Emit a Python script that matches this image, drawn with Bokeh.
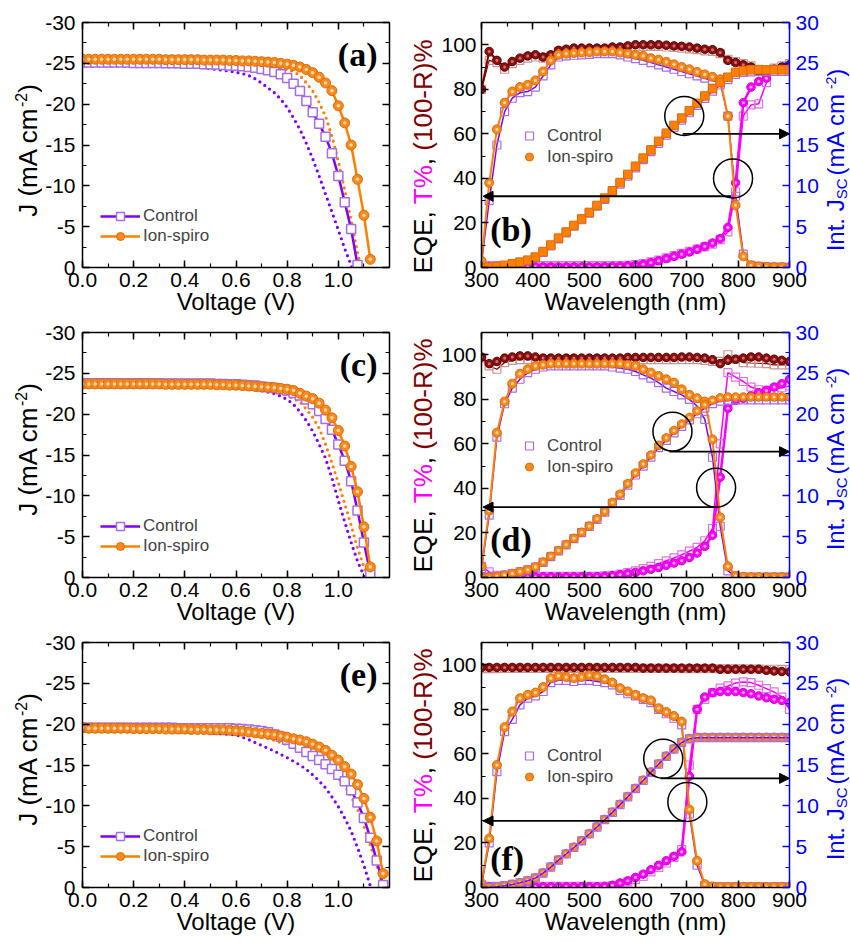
import math
from bokeh.plotting import figure
from bokeh.models import (Range1d, LinearAxis, SingleIntervalTicker, PrintfTickFormatter,
                          CustomJSTickFormatter, Label, Legend, LegendItem, Arrow, NormalHead)
from bokeh.layouts import gridplot
from bokeh.embed import file_html
from bokeh.resources import INLINE

FONT = "Liberation Sans"
SERIF = "Liberation Serif"

# ---------------------------------------------------------------- data
VOLT = [0.000, 0.025, 0.050, 0.075, 0.100, 0.125, 0.150, 0.175, 0.200, 0.225,
        0.250, 0.275, 0.300, 0.325, 0.350, 0.375, 0.400, 0.425, 0.450, 0.475,
        0.500, 0.525, 0.550, 0.575, 0.600, 0.625, 0.650, 0.675, 0.700, 0.725,
        0.750, 0.775, 0.800, 0.825, 0.850, 0.875, 0.900, 0.925, 0.950, 0.975,
        1.000, 1.025, 1.050, 1.075, 1.100, 1.125, 1.150, 1.175, 1.200]

# (a)
A_ION_F = [-25.5, -25.5, -25.5, -25.5, -25.5, -25.5, -25.5, -25.5, -25.5, -25.5,
           -25.5, -25.5, -25.5, -25.45, -25.45, -25.45, -25.45, -25.45, -25.45, -25.4,
           -25.4, -25.4, -25.4, -25.35, -25.35, -25.3, -25.3, -25.25, -25.2, -25.15,
           -25.1, -25.0, -24.9, -24.75, -24.55, -24.25, -23.85, -23.3, -22.6, -21.65,
           -19.8, -17.7, -15.0, -10.8, -6.4, -1.0]
A_CTRL_F = [-25.1, -25.1, -25.1, -25.1, -25.1, -25.1, -25.1, -25.1, -25.05, -25.05,
            -25.05, -25.05, -25.05, -25.0, -25.0, -25.0, -24.95, -24.95, -24.95, -24.9,
            -24.9, -24.85, -24.8, -24.75, -24.7, -24.65, -24.55, -24.45, -24.3, -24.15,
            -23.95, -23.65, -23.2, -22.5, -21.6, -20.4, -19.0, -17.6, -16.0, -14.0,
            -11.2, -8.0, -4.7, -0.3]
A_ION_R = [-25.5, -25.5, -25.5, -25.5, -25.5, -25.5, -25.5, -25.45, -25.45, -25.45,
           -25.45, -25.4, -25.4, -25.4, -25.4, -25.4, -25.35, -25.35, -25.35, -25.3,
           -25.3, -25.25, -25.2, -25.15, -25.1, -25.05, -25.0, -24.9, -24.8, -24.65,
           -24.5, -24.35, -24.2, -24.0, -23.5, -22.6, -21.6, -20.2, -18.5, -16.1,
           -13.0, -9.5, -5.8, -1.8, 1.5]
A_CTRL_R = [-24.9, -24.9, -24.9, -24.9, -24.9, -24.9, -24.9, -24.85, -24.85, -24.85,
            -24.85, -24.8, -24.8, -24.8, -24.75, -24.7, -24.6, -24.55, -24.5, -24.45,
            -24.35, -24.25, -24.15, -24.05, -23.9, -23.75, -23.5, -23.1, -22.6, -22.0,
            -21.4, -20.6, -19.6, -18.3, -16.9, -15.2, -13.3, -11.2, -9.0, -6.8,
            -4.6, -2.3, -0.3, 2.0]
# (c)
C_ION_F = [-23.7, -23.7, -23.7, -23.7, -23.7, -23.7, -23.7, -23.7, -23.7, -23.7,
           -23.7, -23.7, -23.7, -23.65, -23.65, -23.65, -23.65, -23.65, -23.65, -23.65,
           -23.65, -23.6, -23.6, -23.55, -23.55, -23.5, -23.45, -23.4, -23.35, -23.3,
           -23.25, -23.15, -23.05, -22.9, -22.55, -22.2, -21.9, -21.35, -20.5, -19.55,
           -18.0, -16.1, -13.6, -10.5, -6.2, -1.3]
C_CTRL_F = [-23.8, -23.8, -23.8, -23.8, -23.8, -23.8, -23.8, -23.8, -23.8, -23.8,
            -23.8, -23.8, -23.8, -23.75, -23.75, -23.75, -23.75, -23.75, -23.75, -23.75,
            -23.75, -23.7, -23.7, -23.65, -23.65, -23.6, -23.55, -23.5, -23.4, -23.3,
            -23.2, -23.05, -22.9, -22.6, -22.3, -21.8, -21.2, -20.4, -19.4, -18.1,
            -16.3, -14.3, -11.8, -8.2, -4.3, -0.5]
C_ION_R = [-23.7, -23.7, -23.7, -23.7, -23.7, -23.7, -23.7, -23.7, -23.7, -23.7,
           -23.7, -23.7, -23.65, -23.65, -23.65, -23.65, -23.65, -23.6, -23.6, -23.6,
           -23.6, -23.55, -23.55, -23.5, -23.45, -23.4, -23.35, -23.25, -23.1, -22.95,
           -22.8, -22.55, -22.3, -21.9, -21.5, -20.6, -19.6, -18.3, -16.3, -14.0,
           -11.6, -9.0, -6.4, -3.6, -1.3, 1.0]
C_CTRL_R = [-23.7, -23.7, -23.7, -23.7, -23.7, -23.7, -23.7, -23.7, -23.7, -23.7,
            -23.7, -23.65, -23.65, -23.65, -23.65, -23.6, -23.6, -23.6, -23.55, -23.55,
            -23.5, -23.45, -23.4, -23.35, -23.3, -23.2, -23.1, -22.95, -22.85, -22.7,
            -22.5, -22.2, -21.8, -21.2, -20.3, -19.2, -17.9, -16.3, -14.6, -12.2,
            -9.4, -6.8, -4.3, -2.0, -0.2, 2.0]
# (e)
E_ION_F = [-19.6, -19.5, -19.5, -19.5, -19.5, -19.5, -19.5, -19.5, -19.45, -19.45,
           -19.45, -19.45, -19.45, -19.4, -19.4, -19.4, -19.4, -19.35, -19.35, -19.35,
           -19.3, -19.3, -19.3, -19.25, -19.2, -19.15, -19.05, -18.95, -18.85, -18.8,
           -18.7, -18.55, -18.4, -18.2, -18.05, -17.85, -17.55, -17.2, -16.8, -16.2,
           -15.6, -14.8, -13.9, -12.6, -10.9, -8.6, -5.7, -1.7]
E_CTRL_F = [-19.55, -19.55, -19.55, -19.55, -19.55, -19.55, -19.55, -19.55, -19.55, -19.55,
            -19.55, -19.55, -19.55, -19.55, -19.55, -19.5, -19.5, -19.5, -19.5, -19.5,
            -19.5, -19.5, -19.5, -19.5, -19.45, -19.4, -19.35, -19.25, -19.15, -19.0,
            -18.75, -18.45, -18.1, -17.6, -17.1, -16.6, -16.1, -15.6, -15.1, -14.5,
            -13.8, -13.0, -11.9, -10.4, -8.5, -6.1, -3.3, -0.3]
E_ION_R = [-19.5, -19.5, -19.5, -19.45, -19.45, -19.45, -19.4, -19.4, -19.4, -19.4,
           -19.35, -19.35, -19.35, -19.3, -19.3, -19.3, -19.25, -19.25, -19.2, -19.2,
           -19.15, -19.1, -19.05, -19.0, -18.95, -18.85, -18.75, -18.6, -18.45, -18.25,
           -18.0, -17.75, -17.45, -17.1, -16.75, -16.35, -15.9, -15.4, -14.85, -14.2,
           -13.4, -12.45, -11.2, -9.6, -7.5, -5.2, -2.7, -0.1]
E_CTRL_R = [-19.3, -19.3, -19.3, -19.3, -19.3, -19.3, -19.25, -19.25, -19.25, -19.2,
            -19.2, -19.2, -19.15, -19.15, -19.1, -19.1, -19.05, -19.0, -19.0, -18.95,
            -18.9, -18.85, -18.8, -18.75, -18.7, -18.4, -18.1, -17.75, -17.4, -17.05,
            -16.7, -16.3, -15.9, -15.45, -15.0, -14.45, -13.8, -13.05, -12.2, -11.1,
            -9.9, -8.5, -6.9, -4.9, -2.7, -0.2]

WL = [300, 315, 330, 345, 360, 375, 390, 405, 420, 435,
      450, 465, 480, 495, 510, 525, 540, 555, 570, 585,
      600, 615, 630, 645, 660, 675, 690, 705, 720, 735,
      750, 765, 780, 795, 810, 825, 840, 855, 870, 885, 900]

# (b)
B_EQE_ION = [3, 38, 62, 74, 79, 81, 82, 84, 88, 93,
             95.5, 96, 96.3, 96.5, 96.7, 97, 97, 97, 96.5, 96,
             95.5, 95, 94, 93.3, 92.3, 91.2, 90, 89, 87.8, 86.7,
             85.6, 84.5, 68, 28, 5, 1, 0.5, 0.3, 0.2, 0.2, 0.1]
B_EQE_CTRL = [2, 30, 55, 70, 76, 78.5, 79, 81, 86, 91,
              94.5, 95, 95.3, 95.5, 95.7, 96, 96, 96, 95.5, 94.5,
              93.8, 93, 92, 91, 90, 89, 88, 87, 86, 85,
              84, 83, 68, 32, 6, 1, 0.5, 0.3, 0.2, 0.2, 0.1]
B_JSC_ION = [0, 0.03, 0.12, 0.27, 0.45, 0.66, 0.9, 1.28, 1.95, 2.75,
             3.6, 4.35, 5.15, 5.95, 6.75, 7.6, 8.5, 9.4, 10.4, 11.4,
             12.4, 13.4, 14.4, 15.45, 16.45, 17.4, 18.3, 19.2, 20.1, 21.0,
             21.9, 22.65, 23.3, 23.9, 24.1, 24.2, 24.2, 24.2, 24.2, 24.2, 24.2]
B_JSC_CTRL = [0, 0.02, 0.1, 0.23, 0.4, 0.6, 0.84, 1.2, 1.85, 2.65,
              3.5, 4.25, 5.05, 5.85, 6.65, 7.5, 8.35, 9.25, 10.2, 11.2,
              12.2, 13.2, 14.2, 15.2, 16.2, 17.15, 18.05, 18.95, 19.85, 20.7,
              21.6, 22.35, 23.0, 23.65, 23.9, 23.95, 24.0, 24.0, 24.0, 24.0, 24.0]
B_T_ION = [0.5, 0.3, 0.3, 0.3, 0.3, 0.3, 0.3, 0.3, 0.3, 0.3,
           0.3, 0.3, 0.3, 0.3, 0.3, 0.3, 0.4, 0.5, 0.6, 0.8,
           1.0, 1.5, 2.2, 3.0, 4.0, 5.0, 6.0, 7.0, 8.2, 9.5,
           11.0, 13.0, 18.0, 38.0, 74.0, 81.0, 83.5, 85.0]
B_T_CTRL = [1.0, 0.8, 0.8, 0.8, 0.8, 0.8, 0.8, 0.8, 0.8, 0.8,
            0.8, 0.8, 0.8, 0.8, 0.8, 0.8, 0.8, 0.8, 0.9, 1.0,
            1.3, 1.8, 2.5, 3.3, 4.3, 5.3, 6.3, 7.3, 8.3, 9.3,
            10.5, 12.5, 16.0, 34.0, 68.0, 73.0, 73.5, 83.0]
B_R_ION = [80, 97, 93, 90, 92.5, 94, 95, 95.5, 94.5, 95.5,
           97.5, 98, 98.5, 98.5, 98.5, 98.5, 98.5, 99, 99, 99.5,
           100, 100, 100, 100, 99.8, 99.5, 99.3, 99, 98.5, 98,
           97.8, 96.5, 93, 92, 91, 90, 88, 87, 89, 90, 91]
B_R_CTRL = [80, 93, 92, 89, 91.5, 93, 94, 94.5, 94, 95,
            97, 97.5, 97.5, 97.5, 97.5, 97.5, 97.8, 98, 98.3, 98.8,
            99, 99.2, 99.3, 99.3, 99, 98.8, 98.5, 98.2, 97.8, 97.3,
            97, 96, 93.5, 92.5, 91.5, 90.5, 89, 88, 89.5, 90.5, 91.5]
# (d)
D_EQE_ION = [5, 30, 65, 79, 87, 91.5, 93.5, 95, 95.5, 96,
             96, 96, 96, 96, 96, 96, 96, 96, 96, 95.5,
             95, 93.5, 92, 90.5, 89, 87.5, 84.5, 82, 80.5, 79,
             62, 27, 5, 0.7, 0.3, 0.2, 0.2, 0.2, 0.2, 0.2, 0.2]
D_EQE_CTRL = [4, 28, 63, 78, 85, 89, 92, 93.5, 94.5, 95,
              95, 95, 95, 95, 95, 95, 95, 94.5, 94, 93.5,
              92.5, 91, 89.5, 87.5, 85, 83.5, 82, 80, 77, 71,
              54, 23, 3, 0.5, 0.2, 0.2, 0.2, 0.2, 0.2, 0.2, 0.2]
D_JSC_ION = [0, 0.04, 0.14, 0.3, 0.5, 0.72, 0.95, 1.3, 1.9, 2.6,
             3.3, 4.05, 4.8, 5.55, 6.3, 7.2, 8.1, 9.2, 10.2, 11.5,
             12.8, 13.9, 15.0, 16.2, 17.1, 18.0, 18.8, 19.6, 20.4, 21.15,
             21.7, 22.0, 22.1, 22.1, 22.1, 22.1, 22.1, 22.1, 22.1, 22.1, 22.1]
D_JSC_CTRL = [0, 0.04, 0.13, 0.28, 0.48, 0.7, 0.93, 1.27, 1.85, 2.55,
              3.25, 4.0, 4.75, 5.5, 6.25, 7.1, 8.0, 9.05, 10.05, 11.3,
              12.55, 13.65, 14.75, 15.9, 16.8, 17.7, 18.5, 19.3, 20.05, 20.75,
              21.3, 21.6, 21.7, 21.75, 21.75, 21.75, 21.75, 21.75, 21.75, 21.75, 21.75]
D_T_ION = [0.5, 0.3, 0.3, 0.3, 0.3, 0.3, 0.3, 0.3, 0.3, 0.3,
           0.3, 0.3, 0.3, 0.3, 0.3, 0.4, 0.6, 0.9, 1.3, 1.8,
           2.3, 3.0, 3.7, 4.5, 5.5, 6.5, 7.5, 9.0, 11.0, 14.0,
           19.0, 45.0, 76.0, 79.5, 80.5, 81.5, 83.0, 84.0, 85.5, 87.0, 89.0]
D_T_CTRL = [5.0, 2.5, 1.0, 0.6, 0.5, 0.5, 0.5, 0.5, 0.5, 0.5,
            0.5, 0.5, 0.5, 0.5, 0.5, 0.5, 0.7, 1.0, 1.5, 2.2,
            3.0, 4.0, 5.0, 6.2, 7.5, 8.8, 10.2, 11.8, 13.5, 16.5,
            22.0, 60.0, 92.0, 90.0, 88.0, 85.5, 84.3, 84.0, 84.5, 85.2, 86.0]
D_R_ION = [99, 96, 97, 98.5, 99, 99.5, 99.5, 99, 98.5, 98.5,
           98.5, 98.5, 98.5, 98.5, 98.5, 98.5, 98.5, 98.5, 98.5, 98.8,
           98.8, 98.8, 98.8, 98.8, 98.8, 98.8, 99, 99, 98.8, 98.5,
           97.8, 96, 97.5, 98, 98.5, 99, 99, 98.5, 98, 97.5, 97]
D_R_CTRL = [98.5, 95, 93.5, 96.5, 97.5, 97.8, 97.8, 97.8, 97.8, 97.8,
            97.8, 97.8, 97.8, 97.8, 97.8, 97.8, 97.8, 97.8, 97.8, 97.8,
            97.8, 97.8, 97.8, 97.8, 97.8, 97.8, 97.8, 97.8, 97.8, 97.5,
            97, 97, 100, 98, 96.5, 96.3, 96.2, 96, 95.5, 95.5, 95.5]
# (f)
F_EQE_ION = [2, 22, 55, 72, 79, 85, 86.5, 87.5, 90, 94,
             95, 94.5, 94, 94.5, 95.3, 94.8, 93.5, 92, 89.5, 88,
             86.5, 85, 84, 80.5, 78.8, 77, 74.5, 35, 12, 1.5,
             0.5, 0.3, 0.3, 0.3, 0.3, 0.3, 0.3, 0.3, 0.3, 0.3, 0.3]
F_EQE_CTRL = [1, 20, 52, 70, 75.5, 82, 85, 86, 88, 92,
              93, 93, 92.5, 93, 93, 92.5, 92, 91, 88.5, 87,
              86, 84.5, 83, 80, 78, 76, 73, 33, 10, 1,
              0.4, 0.3, 0.3, 0.3, 0.3, 0.3, 0.3, 0.3, 0.3, 0.3, 0.3]
F_JSC_ION = [0, 0.02, 0.1, 0.23, 0.4, 0.6, 0.85, 1.18, 1.8, 2.55,
             3.4, 4.15, 4.95, 5.75, 6.6, 7.45, 8.35, 9.25, 10.2, 11.15,
             12.15, 13.15, 14.15, 15.15, 16.1, 17.0, 17.8, 18.25, 18.4, 18.4,
             18.4, 18.4, 18.4, 18.4, 18.4, 18.4, 18.4, 18.4, 18.4, 18.4, 18.4]
F_JSC_CTRL = [0, 0.02, 0.1, 0.22, 0.38, 0.58, 0.82, 1.15, 1.75, 2.5,
              3.35, 4.1, 4.9, 5.7, 6.55, 7.4, 8.3, 9.2, 10.15, 11.1,
              12.1, 13.1, 14.1, 15.1, 16.05, 16.95, 17.75, 18.2, 18.35, 18.35,
              18.35, 18.35, 18.35, 18.35, 18.35, 18.35, 18.35, 18.35, 18.35, 18.35, 18.35]
F_T_ION = [0.3, 0.3, 0.3, 0.3, 0.3, 0.3, 0.3, 0.3, 0.3, 0.3,
           0.3, 0.3, 0.3, 0.3, 0.3, 0.3, 0.5, 1.0, 2.0, 3.0,
           4.5, 6.0, 8.0, 10.0, 12.0, 14.0, 16.0, 50.0, 80.0, 85.5,
           87.5, 88.0, 88.0, 88.0, 87.5, 87.0, 86.0, 85.2, 84.5, 84.0, 83.0]
F_T_CTRL = [0.5, 0.5, 0.5, 0.5, 0.5, 0.5, 0.5, 0.5, 0.5, 0.5,
            0.5, 0.5, 0.5, 0.5, 0.5, 0.5, 0.5, 0.8, 1.5, 2.5,
            3.5, 5.0, 7.0, 9.0, 11.0, 13.5, 17.0, 55.0, 80.0, 84.5,
            87.5, 89.5, 90.5, 91.8, 92.3, 92.0, 90.8, 89.3, 87.8, 85.5, 80.0]
F_R_ION = [98.8, 98.8, 98.8, 98.8, 98.8, 98.8, 98.8, 98.8, 98.8, 98.8,
           98.8, 98.8, 98.8, 98.8, 98.8, 98.8, 98.8, 98.8, 98.8, 98.8,
           98.8, 98.5, 98.5, 98.5, 98.5, 98.5, 98.5, 98.5, 98.5, 98.5,
           98.5, 98.0, 98.0, 98.0, 98.0, 98.0, 98.0, 97.5, 97.2, 97.0, 96.8]
F_R_CTRL = [98.3, 98.3, 98.3, 98.4, 98.4, 98.4, 98.4, 98.4, 98.4, 98.4,
            98.4, 98.4, 98.4, 98.4, 98.4, 98.4, 98.4, 98.4, 98.4, 98.4,
            98.4, 98.4, 98.4, 98.4, 98.4, 98.4, 98.3, 98.3, 98.3, 98.3,
            98.3, 98.2, 98.2, 98.2, 98.2, 98.1, 98.1, 98.0, 98.0, 97.9, 97.8]

# annotation circles (wavelength, left-axis units) and arrows
ANNOT = {
    "b": dict(circles=[(695, 68.0), (790, 40.0)], right=(692, 60.0), left=(786, 32.0)),
    "d": dict(circles=[(672, 65.5), (757, 40.3)], right=(666, 56.5), left=(757, 31.6)),
    "f": dict(circles=[(654, 57.8), (701, 38.4)], right=(649, 49.0), left=(698, 29.9)),
}

# ---------------------------------------------------------------- styles
PURPLE = "#8000FF"
LAV = "#A66CF0"
ORANGE = "#FF8000"
ORANGE_F = "#F7891E"
ORANGE_E = "#E06C00"
ORANGE_H = "#FFD9A8"
MAGENTA = "#FF00FF"
MAG_SQ = "#E66EE6"
MAG_H = "#FFB8FF"
DRED = "#800000"
DRED_F = "#8B1010"
DRED_H = "#D07070"
DRED_SQ = "#C89494"
BLUE = "#0000FF"

LFW, RFW, FH = 307, 308, 245
TOPS = [22, 11, 11]
BOTS = [54, 54, 53]
JLAB_W, EQELAB_W, JSCLAB_W = 42, 30, 31
MID = 0.3465  # baseline offset of a 'middle'-anchored text, in em

ARIAL = {' ': 278, '%': 889, '(': 333, ')': 333, ',': 278, '-': 333, '.': 278,
         '0': 556, '1': 556, '2': 556, 'A': 667, 'C': 722, 'E': 667, 'I': 278,
         'J': 500, 'Q': 778, 'R': 722, 'S': 667, 'T': 611, 'a': 556, 'c': 500,
         'e': 556, 'm': 833, 'n': 556, 't': 278}


def tw(s, size):
    return sum(ARIAL.get(ch, 556) for ch in s) * size / 1000.0


def style_axis(ax, interval, fmt, color="black", labels=True, standoff=7):
    ax.ticker = SingleIntervalTicker(interval=interval, num_minor_ticks=2)
    ax.axis_line_color = color
    ax.axis_line_width = 1.5
    ax.major_tick_line_color = color
    ax.major_tick_line_width = 1.5
    ax.minor_tick_line_color = color
    ax.minor_tick_line_width = 1.2
    ax.major_tick_in = 7
    ax.major_tick_out = 0
    ax.minor_tick_in = 4
    ax.minor_tick_out = 0
    ax.major_label_text_font = FONT
    ax.major_label_text_color = color
    if labels:
        ax.formatter = PrintfTickFormatter(format=fmt)
        ax.major_label_text_font_size = "21px"
        ax.major_label_standoff = standoff
    else:
        ax.formatter = CustomJSTickFormatter(code="return ''")
        ax.major_label_text_font_size = "1px"
        ax.major_label_standoff = 0
    ax.axis_label_text_font = FONT
    ax.axis_label_text_font_style = "normal"
    ax.axis_label_text_font_size = "24px"
    ax.axis_label_text_color = "black"
    ax.axis_label_standoff = -2


def make_fig(xr, yr, fw, left, right, top, bot):
    p = figure(frame_width=fw, frame_height=FH, min_border_left=left, min_border_right=right,
               min_border_top=top, min_border_bottom=bot, x_range=xr, y_range=yr,
               output_backend="svg", toolbar_location=None, tools="",
               background_fill_color="white", border_fill_color="white",
               outline_line_color=None)
    p.xgrid.visible = False
    p.ygrid.visible = False
    return p


def label_fig(w, top, bot):
    h = top + FH + bot
    p = figure(frame_width=w, frame_height=h, min_border_left=0, min_border_right=0,
               min_border_top=0, min_border_bottom=0, x_range=Range1d(0, w),
               y_range=Range1d(0, h), x_axis_type=None, y_axis_type=None,
               output_backend="svg", toolbar_location=None, tools="",
               background_fill_color="white", border_fill_color="white",
               outline_line_color=None)
    return p


def vlabel(p, baseline_x, center_from_top, bot, pieces):
    """Rotated (bottom-to-top) multi-piece label inside a label figure (pixel coords).
    pieces: (text, font px, colour, baseline shift up, extra advance px)"""
    total = sum(tw(t, s) + pad for t, s, c, sh, pad in pieces)
    py = (bot + FH - center_from_top) - total / 2.0
    for t, s, c, sh, pad in pieces:
        ax_ = baseline_x - sh - MID * s
        p.add_layout(Label(x=ax_, y=py, text=t, angle=math.pi / 2,
                           text_align="left", text_baseline="middle",
                           text_font=FONT, text_font_size="%dpx" % s, text_color=c))
        py += tw(t, s) + pad


def ball(p, x, y, fill, edge, hl, size, **kw):
    s = p.scatter(x, y, marker="circle", size=size, fill_color=fill, line_color=edge,
                  line_width=1, **kw)
    p.scatter(x, y, marker="circle", size=size * 0.36, fill_color=hl, line_color=None, **kw)
    return s


def jv_panel(letter, row, ion_f, ctrl_f, ion_r, ctrl_r):
    top, bot = TOPS[row], BOTS[row]
    xr = Range1d(0, 1.2)
    yr = Range1d(0, -30)
    p = make_fig(xr, yr, LFW, 82 - JLAB_W, 19, top, bot)
    style_axis(p.xaxis[0], 0.2, "%.1f", standoff=5)
    p.xaxis[0].axis_label = "Voltage (V)"
    style_axis(p.yaxis[0], 5, "%d")
    ax_t = LinearAxis()
    style_axis(ax_t, 0.2, "%.1f", labels=False)
    p.add_layout(ax_t, "above")
    ax_r = LinearAxis()
    style_axis(ax_r, 5, "%d", labels=False)
    p.add_layout(ax_r, "right")

    p.line(VOLT[:len(ctrl_r)], ctrl_r, line_color=PURPLE, line_width=3.2,
           line_dash="0 6", line_cap="round")
    p.line(VOLT[:len(ion_r)], ion_r, line_color=ORANGE, line_width=3.2,
           line_dash="0 6", line_cap="round")
    xc = VOLT[:len(ctrl_f)]
    lc = p.line(xc, ctrl_f, line_color=PURPLE, line_width=2.5)
    sc = p.scatter(xc, ctrl_f, marker="square", size=9, fill_color="white",
                   line_color=LAV, line_width=1.5)
    xi = VOLT[:len(ion_f)]
    li = p.line(xi, ion_f, line_color=ORANGE, line_width=2.5)
    si = ball(p, xi, ion_f, ORANGE_F, ORANGE_E, ORANGE_H, 10)

    leg = Legend(items=[LegendItem(label="Control", renderers=[lc, sc]),
                        LegendItem(label="Ion-spiro", renderers=[li, si])],
                 location=(18, 21), background_fill_alpha=0, border_line_alpha=0,
                 label_text_font=FONT, label_text_font_size="17px", glyph_width=40,
                 glyph_height=20, label_height=20, spacing=0, padding=0, margin=0,
                 label_standoff=3)
    p.add_layout(leg)
    p.add_layout(Label(x=1.153, y=-26.1, text="(%s)" % letter, text_align="right",
                       text_baseline="middle", text_font=SERIF, text_font_style="bold",
                       text_font_size="34px", text_color="black"))

    lab = label_fig(JLAB_W, top, bot)
    vlabel(lab, 37, 106, bot,
           [("J (mA cm", 26, "black", 0, 0), ("-2", 16, "black", 11, 0),
            (")", 26, "black", 0, 0)])
    return lab, p


def eqe_panel(letter, row, eqe_c, eqe_i, jsc_c, jsc_i, t_c, t_i, r_c, r_i,
              ann, jsc_ion_marker, ion_jsc_on_top, letter_y):
    top, bot = TOPS[row], BOTS[row]
    xr = Range1d(300, 900)
    yr = Range1d(0, 110)
    p = make_fig(xr, yr, RFW, 41, 31, top, bot)
    p.extra_y_ranges = {"jsc": Range1d(0, 30)}
    style_axis(p.xaxis[0], 100, "%d", standoff=5)
    p.xaxis[0].axis_label = "Wavelength (nm)"
    style_axis(p.yaxis[0], 20, "%d", standoff=5)
    ax_t = LinearAxis()
    style_axis(ax_t, 100, "%d", labels=False)
    p.add_layout(ax_t, "above")
    ax_r = LinearAxis(y_range_name="jsc")
    style_axis(ax_r, 5, "%d", color=BLUE, standoff=6)
    p.add_layout(ax_r, "right")

    # (100-R)%
    p.line(WL[:len(r_c)], r_c, line_color=DRED, line_width=1.2)
    p.scatter(WL[:len(r_c)], r_c, marker="square", size=8, fill_color=None,
              line_color=DRED_SQ, line_width=1.2)
    p.line(WL[:len(r_i)], r_i, line_color=DRED, line_width=2)
    ball(p, WL[:len(r_i)], r_i, DRED_F, "#600000", DRED_H, 8.5)
    # T%
    p.line(WL[:len(t_c)], t_c, line_color=MAGENTA, line_width=1.5)
    p.scatter(WL[:len(t_c)], t_c, marker="square", size=8, fill_color=None,
              line_color=MAG_SQ, line_width=1.2)
    p.line(WL[:len(t_i)], t_i, line_color=MAGENTA, line_width=2.5)
    ball(p, WL[:len(t_i)], t_i, MAGENTA, "#D000D0", MAG_H, 8.5)
    # EQE
    p.line(WL, eqe_c, line_color=PURPLE, line_width=1.5)
    sc = p.scatter(WL, eqe_c, marker="square", size=8, fill_color=None,
                   line_color=LAV, line_width=1.2)
    p.line(WL, eqe_i, line_color=ORANGE, line_width=2)
    si = ball(p, WL, eqe_i, ORANGE_F, ORANGE_E, ORANGE_H, 9)

    # integrated Jsc
    def draw_ctrl_jsc():
        p.line(WL, jsc_c, line_color=PURPLE, line_width=1.5, y_range_name="jsc")
        p.scatter(WL, jsc_c, marker="square", size=8, fill_color=None,
                  line_color=LAV, line_width=1.2, y_range_name="jsc")

    def draw_ion_jsc():
        p.line(WL, jsc_i, line_color=ORANGE, line_width=2, y_range_name="jsc")
        if jsc_ion_marker == "square":
            p.scatter(WL, jsc_i, marker="square", size=8.5, fill_color=ORANGE,
                      line_color=ORANGE_E, line_width=1, y_range_name="jsc")
        else:
            ball(p, WL, jsc_i, ORANGE_F, ORANGE_E, ORANGE_H, 8.5, y_range_name="jsc")

    if ion_jsc_on_top:
        draw_ctrl_jsc()
        draw_ion_jsc()
    else:
        draw_ion_jsc()
        draw_ctrl_jsc()

    # annotations
    cx = [c[0] for c in ann["circles"]]
    cy = [c[1] for c in ann["circles"]]
    p.ellipse(x=cx, y=cy, width=76, height=17.5, fill_color=None, line_color="black",
              line_width=1.5)
    rx, ry = ann["right"]
    p.add_layout(Arrow(end=NormalHead(size=10, fill_color="black", line_color="black"),
                       x_start=rx, y_start=ry, x_end=900, y_end=ry,
                       line_color="black", line_width=1.8))
    lx, ly = ann["left"]
    p.add_layout(Arrow(end=NormalHead(size=10, fill_color="black", line_color="black"),
                       x_start=lx, y_start=ly, x_end=303, y_end=ly,
                       line_color="black", line_width=1.8))

    leg = Legend(items=[LegendItem(label="Control", renderers=[sc]),
                        LegendItem(label="Ion-spiro", renderers=[si])],
                 location=(38, 100), background_fill_alpha=0, border_line_alpha=0,
                 label_text_font=FONT, label_text_font_size="17px", glyph_width=20,
                 glyph_height=21, label_height=21, spacing=0, padding=0, margin=0,
                 label_standoff=8)
    p.add_layout(leg)
    p.add_layout(Label(x=317, y=letter_y, text="(%s)" % letter, text_align="left",
                       text_baseline="middle", text_font=SERIF, text_font_style="bold",
                       text_font_size="34px", text_color="black"))

    left_lab = label_fig(EQELAB_W, top, bot)
    vlabel(left_lab, 24, 112, bot,
           [("EQE, ", 26, "black", 0, 0), ("T%", 26, MAGENTA, 0, 0),
            (", ", 26, "black", 0, 0), ("(100-R)%", 26, DRED, 0, 0)])
    right_lab = label_fig(JSCLAB_W, top, bot)
    vlabel(right_lab, 22, 115.5, bot,
           [("Int. J", 24, BLUE, 0, 0), ("SC", 15, BLUE, -3, 3), (" (mA cm", 24, BLUE, 0, -3),
            ("-2", 14, BLUE, 8, 0), (")", 24, BLUE, 0, 0)])
    return left_lab, p, right_lab


la, pa = jv_panel("a", 0, A_ION_F, A_CTRL_F, A_ION_R, A_CTRL_R)
lb, pb, rb = eqe_panel("b", 0, B_EQE_CTRL, B_EQE_ION, B_JSC_CTRL, B_JSC_ION,
                       B_T_CTRL, B_T_ION, B_R_CTRL, B_R_ION, ANNOT["b"], "square", True, 17)
lc_, pc = jv_panel("c", 1, C_ION_F, C_CTRL_F, C_ION_R, C_CTRL_R)
ld, pd, rd = eqe_panel("d", 1, D_EQE_CTRL, D_EQE_ION, D_JSC_CTRL, D_JSC_ION,
                       D_T_CTRL, D_T_ION, D_R_CTRL, D_R_ION, ANNOT["d"], "circle", True, 17)
le, pe = jv_panel("e", 2, E_ION_F, E_CTRL_F, E_ION_R, E_CTRL_R)
lf, pf, rf = eqe_panel("f", 2, F_EQE_CTRL, F_EQE_ION, F_JSC_CTRL, F_JSC_ION,
                       F_T_CTRL, F_T_ION, F_R_CTRL, F_R_ION, ANNOT["f"], "circle", False, 13)

grid = gridplot([[la, pa, lb, pb, rb],
                 [lc_, pc, ld, pd, rd],
                 [le, pe, lf, pf, rf]], toolbar_location=None)
open("out.html", "w").write(file_html(grid, INLINE, title="J-V and EQE"))
